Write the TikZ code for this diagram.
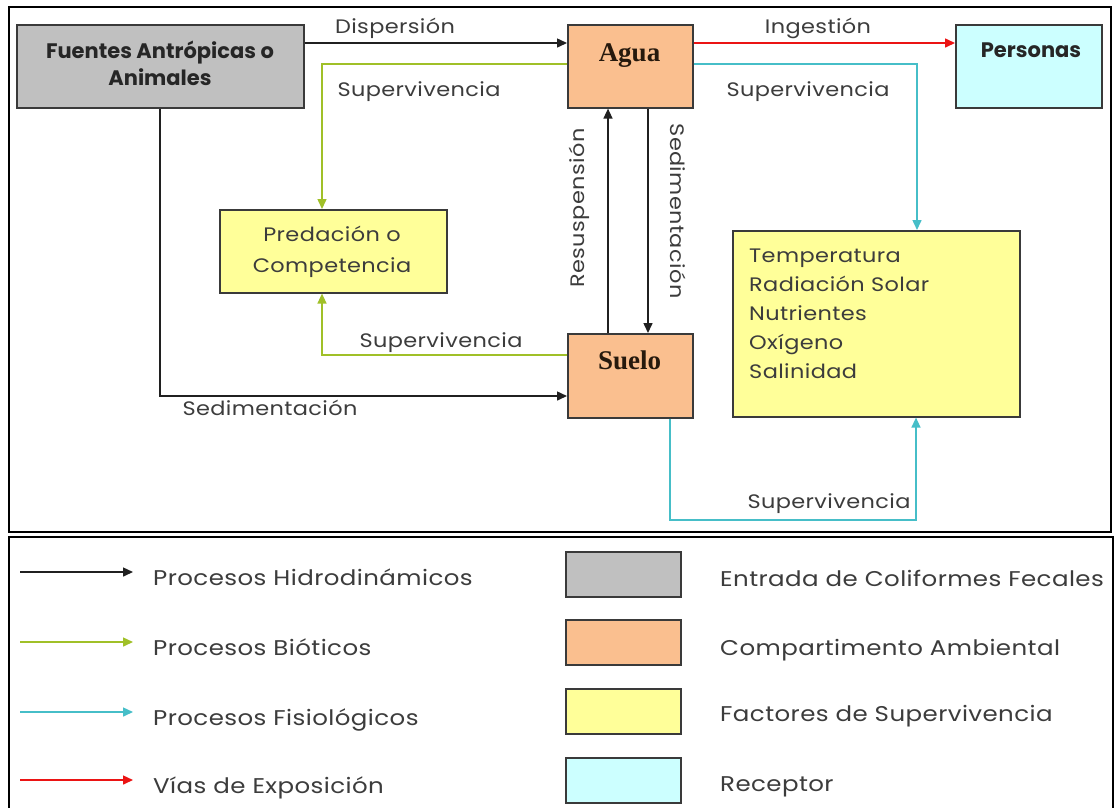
\documentclass[tikz,border=0pt]{standalone}
\usepackage{fontspec}
\setmainfont{Poppins}
\newfontfamily\gothic{Poppins}[FakeStretch=1.15,LetterSpace=2]
\newfontfamily\aguafont{Liberation Serif}
\usetikzlibrary{arrows.meta}
\definecolor{cgray}{HTML}{C0C0C0}
\definecolor{corange}{HTML}{FABF8F}
\definecolor{cyellow}{HTML}{FFFF99}
\definecolor{ccyan}{HTML}{CCFFFF}
\definecolor{boxline}{HTML}{3A3A3A}
\definecolor{txt}{HTML}{3C3C3C}
\definecolor{agreen}{RGB}{160,192,40}
\definecolor{acyan}{RGB}{70,190,200}
\definecolor{ared}{RGB}{235,20,20}
\definecolor{ablack}{HTML}{202020}
\begin{document}
\begin{tikzpicture}[x=1pt,y=-1pt,
  box/.style={draw=boxline, line width=1.6pt, inner sep=0pt, anchor=north west},
  lbl/.style={font=\gothic\fontsize{19.5}{22}\selectfont, text=txt, inner sep=0pt, anchor=base},
  boxtxt/.style={font=\gothic\fontsize{19.5}{22}\selectfont, text=txt, inner sep=0pt, anchor=base},
  boldtxt/.style={font=\fontsize{21}{24}\selectfont\bfseries, text=black!85, inner sep=0pt, anchor=base},
  sertxt/.style={font=\aguafont\fontsize{27}{30}\selectfont\bfseries, text=black!80!brown, inner sep=0pt, anchor=base},
  legtxt/.style={font=\gothic\fontsize{21.3}{24}\selectfont, text=txt, inner sep=0pt, anchor=base west},
  hyd/.style={draw=ablack, line width=1.5pt, -{Triangle[length=10pt,width=9pt]}},
  bio/.style={hyd, draw=agreen},
  fis/.style={hyd, draw=acyan},
  vias/.style={hyd, draw=ared},
  frame/.style={draw=black, line width=1.6pt}
]
\useasboundingbox (0,0) rectangle (1118,807);
\fill[white] (0,0) rectangle (1118,807);
% frames
\draw[frame] (9,7) rectangle (1111,532);
\draw[frame] (9,537) rectangle (1113,830);

% boxes
\node[box, fill=cgray, minimum width=287pt, minimum height=83pt] (fuentes) at (16,24) {};
\node[box, fill=corange, minimum width=125pt, minimum height=83pt] (agua) at (567,24) {};
\node[box, fill=ccyan, minimum width=146pt, minimum height=83pt] (personas) at (955,24) {};
\node[box, fill=cyellow, minimum width=227pt, minimum height=83pt] (pred) at (219,209) {};
\node[box, fill=corange, minimum width=125pt, minimum height=84pt] (suelo) at (567,333) {};
\node[box, fill=cyellow, minimum width=287pt, minimum height=186pt] (temp) at (732,230) {};

% box texts
\node[boldtxt] (fuentes1) at (160,58) {Fuentes Antrópicas o};
\node[boldtxt] (fuentes2) at (160,85) {Animales};
\node[sertxt] (aguat) at (629.5,61) {Agua};
\node[boldtxt] (personast) at (1031,57) {Personas};
\node[boxtxt] (pred1) at (332,241) {Predación o};
\node[boxtxt] (pred2) at (332,272) {Competencia};
\node[sertxt] (suelot) at (629.5,369) {Suelo};
\node[boxtxt, anchor=base west] (temp1) at (749,262) {Temperatura};
\node[boxtxt, anchor=base west] (temp2) at (749,291) {Radiación Solar};
\node[boxtxt, anchor=base west] (temp3) at (749,320) {Nutrientes};
\node[boxtxt, anchor=base west] (temp4) at (749,349) {Oxígeno};
\node[boxtxt, anchor=base west] (temp5) at (749,378) {Salinidad};

% connectors
\draw[hyd] (fuentes.east |- 0,43) -- (agua.west |- 0,43);
\draw[bio] (agua.west |- 0,64) -- (322,64) -- (pred.north -| 322,0);
\draw[vias] (agua.east |- 0,43) -- (personas.west |- 0,43);
\draw[fis] (agua.east |- 0,64) -- (917,64) -- (temp.north -| 917,0);
\draw[hyd] (suelo.north -| 608,0) -- (agua.south -| 608,0);
\draw[hyd] (agua.south -| 648,0) -- (suelo.north -| 648,0);
\draw[bio] (suelo.west |- 0,355) -- (322,355) -- (pred.south -| 322,0);
\draw[hyd] (fuentes.south -| 160,0) -- (160,396) -- (suelo.west |- 0,396);
\draw[fis] (suelo.south -| 670,0) -- (670,520) -- (916,520) -- (temp.south -| 916,0);

% connector labels
\node[lbl] (ldisp) at (395,33) {Dispersión};
\node[lbl] (ling) at (818,33) {Ingestión};
\node[lbl] (lsup1) at (419,96) {Supervivencia};
\node[lbl] (lsup2) at (808,96) {Supervivencia};
\node[lbl] (lsup3) at (441,347) {Supervivencia};
\node[lbl] (lsed1) at (270,415) {Sedimentación};
\node[lbl] (lsup4) at (829,508) {Supervivencia};
\node[lbl, anchor=center, rotate=90] (lres) at (579,208) {Resuspensión};
\node[lbl, anchor=center, rotate=-90] (lsed2) at (678,211) {Sedimentación};

% legend arrows
\coordinate (a1s) at (20,572); \coordinate (a1e) at (133,572);
\coordinate (a2s) at (20,642); \coordinate (a2e) at (133,642);
\coordinate (a3s) at (20,712); \coordinate (a3e) at (133,712);
\coordinate (a4s) at (20,780); \coordinate (a4e) at (133,780);
\draw[hyd] (a1s) -- (a1e);
\draw[bio] (a2s) -- (a2e);
\draw[fis] (a3s) -- (a3e);
\draw[vias] (a4s) -- (a4e);
\node[legtxt] (t1) at (153,585) {Procesos Hidrodinámicos};
\node[legtxt] (t2) at (153,655) {Procesos Bióticos};
\node[legtxt] (t3) at (153,725) {Procesos Fisiológicos};
\node[legtxt] (t4) at (153,793) {Vías de Exposición};

% legend boxes
\node[box, fill=cgray, minimum width=115pt, minimum height=45pt] (k1) at (565,551) {};
\node[box, fill=corange, minimum width=115pt, minimum height=45pt] (k2) at (565,619) {};
\node[box, fill=cyellow, minimum width=115pt, minimum height=45pt] (k3) at (565,688) {};
\node[box, fill=ccyan, minimum width=115pt, minimum height=45pt] (k4) at (565,757) {};
\node[legtxt] (r1) at (720,586) {Entrada de Coliformes Fecales};
\node[legtxt] (r2) at (720,655) {Compartimento Ambiental};
\node[legtxt] (r3) at (720,721) {Factores de Supervivencia};
\node[legtxt] (r4) at (720,791) {Receptor};
\end{tikzpicture}
\end{document}
